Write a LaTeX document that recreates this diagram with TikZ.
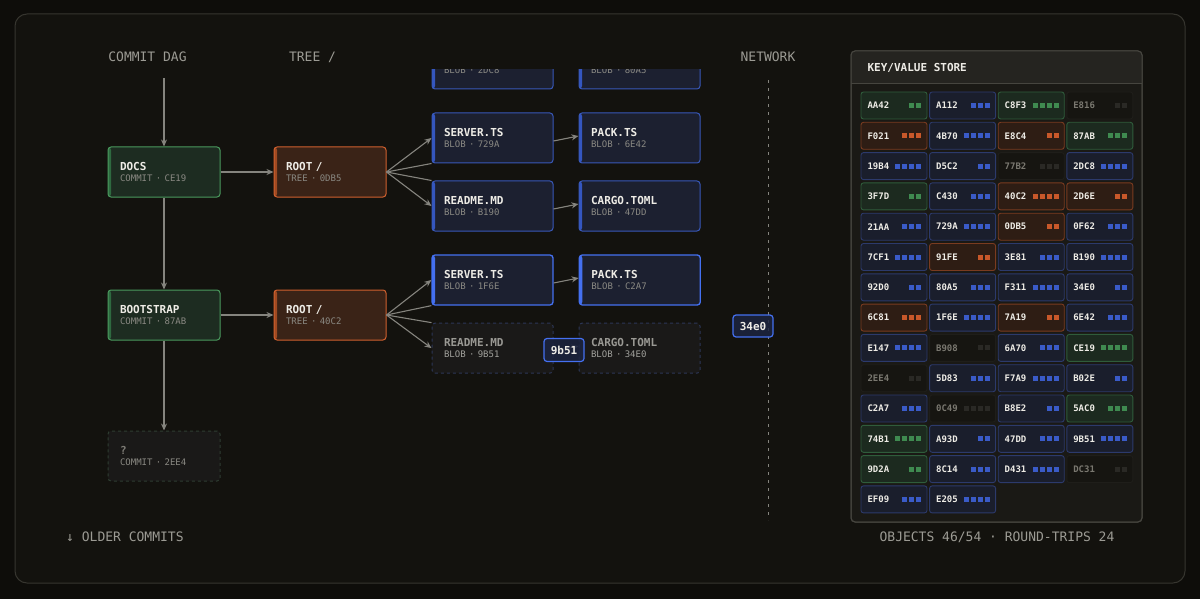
\documentclass[tikz,border=0pt]{standalone}
\usepackage{fontspec}
\setmainfont{DejaVu Sans Mono}
\usetikzlibrary{positioning}
\usetikzlibrary{arrows.meta}

\definecolor{bgcol}{HTML}{0E0D0A}
\definecolor{panelcol}{HTML}{13120E}
\definecolor{framecol}{HTML}{36352F}
\definecolor{hdtxt}{HTML}{9C9B94}
\definecolor{linecol}{HTML}{85847E}
\definecolor{maintxt}{HTML}{EEECE6}
\definecolor{subtxt}{HTML}{8A8983}
\definecolor{cmfill}{HTML}{1D2C21}
\definecolor{cmline}{HTML}{4A9A5E}
\definecolor{cmstrip}{HTML}{2E6A40}
\definecolor{trfill}{HTML}{3A2317}
\definecolor{trline}{HTML}{D0602E}
\definecolor{trstrip}{HTML}{A04A22}
\definecolor{blfill}{HTML}{1C2030}
\definecolor{blline}{HTML}{3858B8}
\definecolor{blstrip}{HTML}{3456C0}
\definecolor{blhot}{HTML}{4470F0}
\definecolor{ghfill}{HTML}{1A1918}
\definecolor{ghline}{HTML}{2C3656}
\definecolor{ghtxt}{HTML}{9A9994}
\definecolor{unkline}{HTML}{2E3D31}
\definecolor{chipfill}{HTML}{1C2440}
\definecolor{chipline}{HTML}{4470F0}
\definecolor{storefill}{HTML}{1A1915}
\definecolor{storeline}{HTML}{46453F}
\definecolor{storehead}{HTML}{252420}
% key/value cell colours, one set per kind
\definecolor{kvfillg}{HTML}{1C2A1F}
\definecolor{kvlineg}{HTML}{2F5C3B}
\definecolor{kvsqg}{HTML}{3F8A50}
\definecolor{kvtxtg}{HTML}{EEECE6}
\definecolor{kvfillb}{HTML}{1A1E2C}
\definecolor{kvlineb}{HTML}{2C3A6C}
\definecolor{kvsqb}{HTML}{3A5BC8}
\definecolor{kvtxtb}{HTML}{EEECE6}
\definecolor{kvfillo}{HTML}{2E1D14}
\definecolor{kvlineo}{HTML}{7A3B20}
\definecolor{kvsqo}{HTML}{C8582A}
\definecolor{kvtxto}{HTML}{EEECE6}
\definecolor{kvfilld}{HTML}{161511}
\definecolor{kvlined}{HTML}{1F1E1A}
\definecolor{kvsqd}{HTML}{2A2925}
\definecolor{kvtxtd}{HTML}{7A7870}

\newcommand{\objlabel}[2]{{\bfseries\fontsize{11}{13}\selectfont #1}\\[-1pt]{\fontsize{9}{10}\selectfont\color{subtxt}#2}}

\begin{document}
\begin{tikzpicture}[
    x=1pt, y=-1pt,
    node distance=17pt and 25pt,
    obj/.style={
        rectangle,
        draw,
        rounded corners=3pt,
        line width=1pt,
        minimum height=50pt,
        text width=#1,
        inner xsep=12pt,
        align=left,
        text=maintxt
    },
    strip/.style={path picture={\fill[#1] (path picture bounding box.north west) rectangle ([xshift=3pt]path picture bounding box.south west);}},
    commit/.style={obj=88pt, fill=cmfill, draw=cmline, strip=cmstrip},
    tree/.style={obj=88pt, fill=trfill, draw=trline, strip=trstrip},
    blob/.style={obj=97pt, fill=blfill, draw=blline, strip=blstrip},
    hotblob/.style={obj=97pt, fill=blfill, draw=blhot, line width=1.3pt, strip=blhot},
    ghost/.style={obj=97pt, fill=ghfill, draw=ghline, dashed, dash pattern=on 3pt off 3pt, text=ghtxt},
    unknown/.style={obj=88pt, fill=ghfill, draw=unkline, dashed, dash pattern=on 3pt off 3pt, text=ghtxt!130},
    hdr/.style={font=\fontsize{13}{15}\selectfont, text=hdtxt, inner sep=0pt},
    chip/.style={draw=chipline, fill=chipfill, fill opacity=0.85, text opacity=1, rounded corners=3pt,
        line width=1.2pt, font=\bfseries\fontsize{11}{13}\selectfont, text=maintxt,
        minimum width=40pt, minimum height=23pt, inner sep=1pt},
    arrow/.style={-{Stealth[length=7pt,width=6pt]}, draw=linecol, line width=1.1pt},
    link/.style={draw=linecol, line width=1.1pt},
    kv/.style={rectangle, rounded corners=2.5pt, draw=kvline#1, fill=kvfill#1, line width=0.9pt,
        minimum height=27pt, text width=53pt, inner xsep=6.5pt, align=left,
        font=\bfseries\fontsize{9}{10}\selectfont, text=kvtxt#1}
]

% background and frame
\fill[bgcol] (0,0) rectangle (1200,599);
\draw[framecol, fill=panelcol, rounded corners=12pt, line width=1pt] (15,14) rectangle (1185,583);

% column titles
\node[hdr] (dagtitle) at (147.5,57) {COMMIT DAG};
\node[hdr] (treetitle) at (312.5,57) {TREE /};
\node[hdr] (nettitle) at (768,57) {NETWORK};

% commits and trees
\node[commit] (docs) at (164,172) {\objlabel{DOCS}{COMMIT · CE19}};
\node[tree, right=53pt of docs] (rootA) {\objlabel{ROOT /}{TREE · 0DB5}};
\node[commit, below=92pt of docs] (boot) {\objlabel{BOOTSTRAP}{COMMIT · 87AB}};
\node[tree, right=53pt of boot] (rootB) {\objlabel{ROOT /}{TREE · 40C2}};
\node[unknown, below=90pt of boot] (unk) {\objlabel{?}{COMMIT · 2EE4}};

% blobs
\begin{scope}
\clip (0,70) rectangle (1200,599);
\node[blob] (topA) at (492.5,64) {\objlabel{\phantom{X}}{BLOB · 2DC8}};
\node[blob, right=25pt of topA] (topB) {\objlabel{\phantom{X}}{BLOB · 80A5}};
\end{scope}
\node[blob] (srvA) at (492.5,138) {\objlabel{SERVER.TS}{BLOB · 729A}};
\node[blob, right=25pt of srvA] (packA) {\objlabel{PACK.TS}{BLOB · 6E42}};
\node[blob, below=17pt of srvA] (readA) {\objlabel{README.MD}{BLOB · B190}};
\node[blob, right=25pt of readA] (cargoA) {\objlabel{CARGO.TOML}{BLOB · 47DD}};
\node[hotblob] (srvB) at (492.5,280) {\objlabel{SERVER.TS}{BLOB · 1F6E}};
\node[hotblob, right=25pt of srvB] (packB) {\objlabel{PACK.TS}{BLOB · C2A7}};
\node[ghost, below=17pt of srvB] (readB) {\objlabel{README.MD}{\color{subtxt!80}BLOB · 9B51}};
\node[ghost, right=25pt of readB] (cargoB) {\objlabel{CARGO.TOML}{\color{subtxt!80}BLOB · 34E0}};

% commit chain
\coordinate (dagtop) at (164,78);
\draw[arrow] (dagtop) -- (docs);
\draw[arrow] (docs) -- (boot);
\draw[arrow] (boot) -- (unk);
\draw[arrow] (docs) -- (rootA);
\draw[arrow] (boot) -- (rootB);

% tree fan-out
\draw[arrow] (rootA.east) -- (srvA.west);
\draw[link] (rootA.east) -- (srvA.south west);
\draw[link] (rootA.east) -- (readA.north west);
\draw[arrow] (rootA.east) -- (readA.west);
\draw[arrow] (rootB.east) -- (srvB.west);
\draw[link] (rootB.east) -- (srvB.south west);
\draw[link] (rootB.east) -- (readB.north west);
\draw[arrow] (rootB.east) -- (readB.west);

\draw[arrow] ([yshift=-3pt]srvA.east) -- ([yshift=2pt]packA.west);
\draw[arrow] ([yshift=-3pt]readA.east) -- ([yshift=2pt]cargoA.west);
\draw[arrow] ([yshift=-3pt]srvB.east) -- ([yshift=2pt]packB.west);
\draw[arrow] ([yshift=-3pt]readB.east) -- ([yshift=2pt]cargoB.west);

% network
\coordinate (nettop) at (768,80);
\coordinate (netbot) at (768,520);
\draw[linecol, line width=1pt, dash pattern=on 3pt off 5pt] (nettop) -- (netbot);
\node[chip] (flyA) at (564,350) {9b51};
\node[chip, minimum height=22pt] (flyB) at (753,326) {34e0};

% key/value store
\node[draw=storeline, fill=storefill, rounded corners=4pt, line width=1pt,
      minimum width=291pt, minimum height=471pt] (store) at (996.5,286.5) {};
\fill[storehead, rounded corners=4pt] (851.5,51.5) rectangle (1141.5,84);
\fill[storehead] (851.5,70) rectangle (1141.5,84);
\draw[storeline, line width=1pt] (851,84) -- (1142,84);
\draw[storeline, rounded corners=4pt, line width=1pt] (851,522) rectangle (1142,51);
\node[anchor=west, font=\bfseries\fontsize{11}{13}\selectfont, text=maintxt] (storetitle) at (864,67.5) {KEY/VALUE STORE};

\foreach \lab/\kind/\n [count=\i from 0] in {
    AA42/g/2, A112/b/3, C8F3/g/4, E816/d/2,
    F021/o/3, 4B70/b/4, E8C4/o/2, 87AB/g/3,
    19B4/b/4, D5C2/b/2, 77B2/d/3, 2DC8/b/4,
    3F7D/g/2, C430/b/3, 40C2/o/4, 2D6E/o/2,
    21AA/b/3, 729A/b/4, 0DB5/o/2, 0F62/b/3,
    7CF1/b/4, 91FE/o/2, 3E81/b/3, B190/b/4,
    92D0/b/2, 80A5/b/3, F311/b/4, 34E0/b/2,
    6C81/o/3, 1F6E/b/4, 7A19/o/2, 6E42/b/3,
    E147/b/4, B908/d/2, 6A70/b/3, CE19/g/4,
    2EE4/d/2, 5D83/b/3, F7A9/b/4, B02E/b/2,
    C2A7/b/3, 0C49/d/4, B8E2/b/2, 5AC0/g/3,
    74B1/g/4, A93D/b/2, 47DD/b/3, 9B51/b/4,
    9D2A/g/2, 8C14/b/3, D431/b/4, DC31/d/2,
    EF09/b/3, E205/b/4} {
  \pgfmathtruncatemacro{\col}{mod(\i,4)}
  \pgfmathtruncatemacro{\row}{\i/4}
  \node[kv=\kind] (kv\i) at ({894+68.6*\col},{105.5+30.3*\row}) {\lab};
  \foreach \k in {1,...,\n}
    \fill[fill=kvsq\kind] ([xshift={-4pt-\k*7pt},yshift=-2.5pt]kv\i.east) rectangle +(5pt,5pt);
}

% footer
\node[hdr, anchor=west] (older) at (66,537) {↓ OLDER COMMITS};
\node[hdr] (stats) at (997,537) {OBJECTS 46/54 · ROUND-TRIPS 24};

\end{tikzpicture}
\end{document}
